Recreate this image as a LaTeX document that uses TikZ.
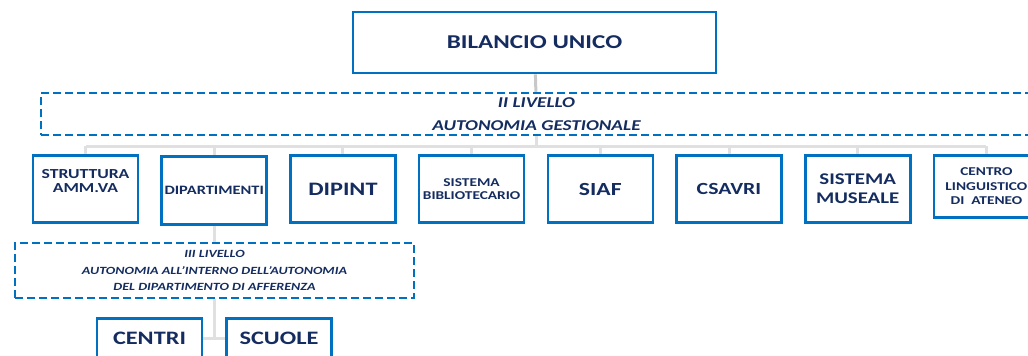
\documentclass[tikz,border=0pt]{standalone}
\usepackage{fontspec}
\setmainfont{Carlito}[FakeStretch=1.28]
\usepackage{tikz}

\definecolor{boxblue}{HTML}{0070C0}
\definecolor{navy}{HTML}{142C5F}
\definecolor{treegray}{HTML}{E0E0E0}
\definecolor{stemgray}{HTML}{C8C8C8}

\begin{document}
\begin{tikzpicture}[x=1pt, y=-1pt, node distance=128.7pt,
    box/.style={draw=boxblue, line width=2.6pt, text=navy, align=center,
      minimum width=105pt, minimum height=67pt, inner sep=0pt},
    dbox/.style={draw=boxblue, line width=2.4pt, dash pattern=on 8pt off 4pt,
      text=navy, align=center, inner sep=0pt},
    tree/.style={draw=treegray, line width=3pt},
    stem/.style={draw=stemgray, line width=3pt}]
        \useasboundingbox (0,0) rectangle (1028,356);

        \node [box, minimum width=363pt, minimum height=61pt,
          font=\bfseries\fontsize{19.6}{20}\selectfont] (1) at (534.5,42.5) {BILANCIO UNICO};
        \node [dbox, minimum width=991pt, minimum height=42pt,
          font=\bfseries\itshape\fontsize{15}{23.3}\selectfont] (2) at (536.5,114) {II LIVELLO\\AUTONOMIA GESTIONALE};
        \coordinate (bus) at (536,146);

        \node [box, font=\bfseries\fontsize{13.8}{14.3}\selectfont, text depth=16pt] (3) at (85.5,189) {STRUTTURA\\AMM.VA};
        \node [box, right of=3, yshift=-1.5pt, minimum height=68pt,
          font=\bfseries\fontsize{12.8}{15}\selectfont] (4) {DIPARTIMENTI};
        \node [box, right of=4, yshift=1.5pt, font=\bfseries\fontsize{19}{19}\selectfont] (5) {DIPINT};
        \node [box, right of=5, font=\bfseries\fontsize{12}{12.3}\selectfont] (6) {SISTEMA\\BIBLIOTECARIO};
        \node [box, right of=6, font=\bfseries\fontsize{18.5}{18.5}\selectfont] (7) {SIAF};
        \node [box, right of=7, font=\bfseries\fontsize{17}{17}\selectfont] (8) {CSAVRI};
        \node [box, right of=8, font=\bfseries\fontsize{16.3}{19.3}\selectfont] (9) {SISTEMA\\MUSEALE};
        \node [box, right of=9, yshift=2.5pt, minimum height=62pt,
          font=\bfseries\fontsize{12}{14.4}\selectfont] (10) {CENTRO\\LINGUISTICO\\DI\ \ ATENEO};

        \node [dbox, minimum width=399pt, minimum height=55pt,
          font=\bfseries\itshape\fontsize{11}{16.3}\selectfont] (11) at (214.5,270.5)
          {III LIVELLO\\AUTONOMIA ALL’INTERNO DELL’AUTONOMIA\\DEL DIPARTIMENTO DI AFFERENZA};
        \node [box, minimum height=39pt, font=\bfseries\fontsize{19}{19}\selectfont] (12) at (149.5,338) {CENTRI};
        \node [box, right of=12, xshift=0.8pt, minimum height=39pt,
          font=\bfseries\fontsize{19}{19}\selectfont] (13) {SCUOLE};

        \draw [stem] (1) -- (2);
        \draw [tree] (2) -- (2 |- bus);
        \draw [tree] (3 |- bus) -- (10 |- bus);
        \draw [tree] (3 |- bus) -- (3);
        \draw [tree] (4 |- bus) -- (4);
        \draw [tree] (5 |- bus) -- (5);
        \draw [tree] (6 |- bus) -- (6);
        \draw [tree] (7 |- bus) -- (7);
        \draw [tree] (8 |- bus) -- (8);
        \draw [tree] (9 |- bus) -- (9);
        \draw [tree] (10 |- bus) -- (10);
        \draw [tree] (4) -- (4 |- 11.north);
        \draw [tree] (11) -- (11 |- 12);
        \draw [tree] (12) -- (13);
      \end{tikzpicture}
\end{document}
